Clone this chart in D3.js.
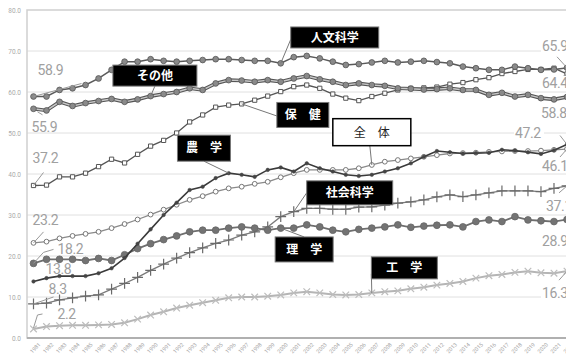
<!DOCTYPE html>
<html><head><meta charset="utf-8">
<script src="https://cdn.jsdelivr.net/npm/d3@7"></script>
<style>
html,body{margin:0;padding:0;background:#fff;}
svg{display:block;}
</style></head>
<body>
<svg id="chart" width="566" height="359"></svg>
<script>
const years = d3.range(1981, 2023);
const yTicks = [0,10,20,30,40,50,60,70,80];

const jinbun = [58.9,58.9,60.5,60.9,61.7,63.3,65.4,67.4,67.4,68.0,67.6,67.4,67.6,67.8,68.0,68.0,67.8,67.6,67.6,67.0,68.5,68.8,68.2,67.4,66.6,66.8,67.2,67.6,67.2,67.4,67.6,67.3,67.0,66.2,65.8,65.4,65.4,66.2,65.8,65.4,65.5,65.9];
const sonota = [55.9,55.5,57.6,56.6,57.3,57.8,58.3,57.6,58.2,59.0,59.5,60.0,60.9,60.5,62.1,62.9,62.8,62.5,62.9,62.5,63.3,63.9,63.1,62.5,61.7,62.1,61.7,61.5,60.9,60.8,60.6,60.7,60.9,60.5,60.5,59.3,59.8,58.9,59.3,58.5,58.2,58.8];
const hoken = [37.2,37.3,39.3,39.3,40.2,41.8,43.6,42.7,44.8,46.8,48.2,50.0,52.7,54.4,56.3,56.8,57.1,58.0,59.0,60.1,61.3,61.7,60.9,59.5,58.5,57.9,58.9,59.7,60.5,60.9,61.0,61.2,61.9,62.3,63.0,63.5,64.5,65.0,65.5,65.5,65.8,64.4];
const zentai = [23.2,23.5,24.3,24.9,25.4,25.9,26.8,27.8,28.9,30.1,31.3,32.5,33.7,34.6,35.7,36.5,36.9,37.6,38.1,39.2,40.2,41.0,41.0,41.0,41.0,41.4,42.2,43.0,43.4,43.8,44.2,44.6,45.0,45.1,45.2,45.4,45.5,45.6,45.6,45.7,45.9,46.1];
const nougaku = [13.8,14.6,15.1,15.1,15.1,15.8,17.0,19.5,23.0,26.5,30.0,33.0,36.1,36.9,39.0,40.2,39.8,39.3,41.0,41.6,40.6,42.6,41.4,40.6,39.8,39.5,39.8,40.6,41.4,42.6,44.2,45.6,45.3,45.0,45.1,45.2,45.9,45.7,45.3,44.9,45.8,47.2];
const shakai = [8.3,8.5,9.3,9.8,10.2,10.5,11.9,13.3,14.8,16.5,18.0,19.5,20.8,22.0,23.1,23.9,25.1,25.9,27.1,29.6,30.8,31.6,31.6,31.4,31.4,31.9,32.0,32.4,32.9,33.2,33.7,34.4,34.9,34.5,34.9,35.4,35.9,35.9,35.9,35.7,36.5,37.1];
const rigaku = [18.2,19.2,19.2,19.2,18.9,19.4,18.9,20.3,21.8,23.0,24.0,24.9,25.9,26.3,26.3,26.8,27.1,26.8,26.3,26.8,26.8,27.6,27.1,26.3,25.9,26.5,26.8,27.1,27.6,27.0,27.3,27.5,27.6,27.1,28.4,28.8,28.4,29.6,28.8,28.6,28.4,28.9];
const kougaku = [2.2,2.8,3.0,3.1,3.1,3.2,3.3,3.7,4.6,5.6,6.4,7.3,8.0,8.6,9.2,9.8,10.0,10.0,10.2,10.5,11.0,11.3,11.0,10.6,10.5,10.6,11.0,11.3,11.5,12.0,12.4,12.9,13.3,13.8,14.6,15.2,15.5,16.0,16.3,15.9,15.8,16.3];

const seriesNames = ["人文科学","その他","保健","全体","農学","社会科学","理学","工学"];

const svg = d3.select("#chart");
const pLeft = 27, pTop = 10, pBottom = 338, pRight = 573;

const x = d3.scalePoint().domain(years).range([33.5, 567]);
const xl = d3.scaleLinear().domain([1981, 2022]).range([33.5, 567]);
const y = d3.scaleLinear().domain([0, 80]).range([pBottom, pTop]);

svg.append("g").selectAll("line").data(yTicks.filter(d => d > 0 && d < 80)).join("line")
  .attr("x1", pLeft).attr("x2", pRight).attr("y1", d => y(d)).attr("y2", d => y(d))
  .attr("stroke", "#e0e0e0").attr("stroke-width", 1);

svg.append("rect").attr("x", pLeft).attr("y", pTop).attr("width", pRight - pLeft).attr("height", pBottom - pTop)
  .attr("fill", "none").attr("stroke", "#cfcfcf").attr("stroke-width", 1.5);
svg.append("line").attr("x1", pLeft).attr("x2", pRight).attr("y1", pBottom).attr("y2", pBottom)
  .attr("stroke", "#b0b0b0").attr("stroke-width", 2);

const yAxis = svg.append("g").attr("transform", `translate(${pLeft},0)`)
  .call(d3.axisLeft(y).tickValues(yTicks).tickFormat(d3.format(".1f")).tickSize(0).tickPadding(6));
yAxis.select(".domain").remove();
yAxis.selectAll("text").attr("fill", "#aaa").attr("font-size", 6.5).attr("font-family", "Roboto, sans-serif");

const xAxis = svg.append("g").attr("transform", `translate(0,${pBottom})`)
  .call(d3.axisBottom(x).tickSize(0).tickPadding(4));
xAxis.select(".domain").remove();
xAxis.selectAll("text").attr("fill", "#aaa").attr("font-size", 5.5).attr("font-family", "Roboto, sans-serif")
  .attr("text-anchor", "end").attr("transform", "translate(3,3) rotate(-45)").attr("dy", "0.3em");

const line = d3.line().x((d, i) => x(years[i])).y(d => y(d));

function drawSeries(vals, opt) {
  const g = svg.append("g");
  if (opt.under) g.append("path").attr("d", line(vals)).attr("fill", "none").attr("stroke", opt.under).attr("stroke-width", opt.underW);
  g.append("path").attr("d", line(vals)).attr("fill", "none").attr("stroke", opt.stroke).attr("stroke-width", opt.width);
  const sym = d3.symbol().type(opt.symbol).size(opt.size);
  g.selectAll("path.m").data(vals).join("path").attr("class", "m")
    .attr("transform", (d, i) => `translate(${x(years[i])},${y(d)})`)
    .attr("d", sym)
    .attr("fill", opt.fill).attr("stroke", opt.mstroke).attr("stroke-width", opt.mw);
  return g;
}

drawSeries(kougaku, {stroke:"#b5b5b5", width:2, symbol:d3.symbolTimes, size:30, fill:"none", mstroke:"#bdbdbd", mw:1.2});
drawSeries(shakai, {stroke:"#7a7a7a", width:1.3, symbol:d3.symbolPlus, size:40, fill:"none", mstroke:"#6a6a6a", mw:1.2});
drawSeries(rigaku, {stroke:"#6e6e6e", width:1.8, symbol:d3.symbolCircle, size:36, fill:"#737373", mstroke:"#666", mw:0.8});
drawSeries(zentai, {stroke:"#8a8a8a", width:1.3, symbol:d3.symbolCircle, size:18, fill:"#fff", mstroke:"#777", mw:1});
drawSeries(nougaku, {stroke:"#3a3a3a", width:1.6, symbol:d3.symbolCircle, size:10, fill:"#444", mstroke:"#444", mw:0.5});
drawSeries(hoken, {stroke:"#555", width:1.3, symbol:d3.symbolSquare, size:18, fill:"#fff", mstroke:"#555", mw:1});
drawSeries(sonota, {under:"#555", underW:3.6, stroke:"#c8c8c8", width:1.4, symbol:d3.symbolCircle, size:26, fill:"#8a8a8a", mstroke:"#555", mw:0.8});
drawSeries(jinbun, {stroke:"#5a5a5a", width:1.5, symbol:d3.symbolCircle, size:26, fill:"#8a8a8a", mstroke:"#555", mw:0.8});

const seriesData = {"人文科学":jinbun,"その他":sonota,"保健":hoken,"全体":zentai,"農学":nougaku,"社会科学":shakai,"理学":rigaku,"工学":kougaku};
const boxes = [
  {text:"人文科学", yr:2004.15, v:73.3, w:88, h:21, dark:true, tgt:"人文科学", tyr:2000, from:[-44,2]},
  {text:"その他", yr:1990.33, v:64.0, w:84, h:21, dark:true, tgt:"その他", tyr:1990, from:[0,10.5]},
  {text:"保　健", yr:2001.7, v:54.4, w:52, h:25, dark:true, tgt:"保健", tyr:1997, from:[-26,1]},
  {text:"全　体", yr:2007.0, v:50.2, w:78, h:27, dark:false, tgt:"全体", tyr:2007, from:[-2,13.5]},
  {text:"農　学", yr:1994.1, v:46.3, w:53, h:26, dark:true, tgt:"農学", tyr:1996, from:[0,13]},
  {text:"社会科学", yr:2005.3, v:35.4, w:86, h:24, dark:true, tgt:"社会科学", tyr:2001, from:[-43,0]},
  {text:"理　学", yr:2001.8, v:21.6, w:58, h:25, dark:true, tgt:"理学", tyr:2000, from:[0,-12.5]},
  {text:"工　学", yr:2009.5, v:17.1, w:66, h:22, dark:true, tgt:"工学", tyr:2007, from:[-33,6]}
];
const bg = svg.append("g");
boxes.forEach(b => {
  const cx = xl(b.yr), cy = y(b.v);
  const tv = seriesData[b.tgt][years.indexOf(b.tyr)];
  bg.append("line").attr("x1", cx + b.from[0]).attr("y1", cy + b.from[1])
    .attr("x2", x(b.tyr)).attr("y2", y(tv)).attr("stroke", "#777").attr("stroke-width", 1);
});
boxes.forEach(b => {
  const cx = xl(b.yr), cy = y(b.v);
  bg.append("rect").attr("x", cx - b.w/2).attr("y", cy - b.h/2).attr("width", b.w).attr("height", b.h)
    .attr("fill", b.dark ? "#000" : "#fff").attr("stroke", b.dark ? "#777" : "#000").attr("stroke-width", b.dark ? 1 : 1.5);
  bg.append("text").attr("x", cx).attr("y", cy).attr("dy", "0.36em").attr("text-anchor", "middle")
    .attr("fill", b.dark ? "#fff" : "#222").attr("font-size", 12).attr("font-weight", b.dark ? "bold" : "normal")
    .attr("font-family", "'Noto Sans CJK JP', sans-serif").text(b.text);
});

const fmt = d3.format(".1f");
const startLabels = [
  {s:jinbun, dx:4, dy:-26, lead:[[48,-13],[0,0]]},
  {s:sonota, dx:-2, dy:18, lead:[[4,3],[9,6]]},
  {s:hoken, dx:-1, dy:-27, lead:[[10,-13],[0,0]]},
  {s:zentai, dx:-1, dy:-23, lead:[[10,-11],[0,0]]},
  {s:rigaku, dx:24, dy:-14, lead:[[20,-14],[10,-11],[0,0]]},
  {s:nougaku, dx:12, dy:-12, lead:null},
  {s:shakai, dx:15, dy:-15, lead:[[20,-7],[0,0]]},
  {s:kougaku, dx:24, dy:-15, lead:[[9,-15],[4,-14],[0,-1]]}
];
const lg = svg.append("g");
startLabels.forEach(l => {
  const px = x(years[0]), py = y(l.s[0]);
  if (l.lead) lg.append("path").attr("d", d3.line()(l.lead.map(p => [px + p[0], py + p[1]])))
    .attr("fill", "none").attr("stroke", "#999").attr("stroke-width", 1);
  lg.append("text").attr("x", px + l.dx).attr("y", py + l.dy).attr("dy", "0.35em")
    .attr("fill", "#a0a0a0").attr("font-size", 14).attr("letter-spacing", -0.4).attr("font-family", "Roboto, sans-serif").text(fmt(l.s[0]));
});
const endLabels = [
  {s:jinbun, dx:-25, dy:-22, lead:[[-10,-11],[0,0]]},
  {s:hoken, dx:-25, dy:9, lead:[[-8,5],[0,0]]},
  {s:sonota, dx:-26, dy:16, lead:null},
  {s:nougaku, dx:-52, dy:-11, lead:[[-7,-9],[0,0]]},
  {s:zentai, dx:-25, dy:17, lead:[[-7,8],[0,0]]},
  {s:shakai, dx:-21, dy:20, lead:[[-8,7],[0,0]]},
  {s:rigaku, dx:-25, dy:22, lead:null},
  {s:kougaku, dx:-25, dy:22, lead:[[-8,9],[0,0]]}
];
endLabels.forEach(l => {
  const n = l.s.length - 1;
  const px = x(years[n]), py = y(l.s[n]);
  if (l.lead) lg.append("path").attr("d", d3.line()(l.lead.map(p => [px + p[0], py + p[1]])))
    .attr("fill", "none").attr("stroke", "#999").attr("stroke-width", 1);
  lg.append("rect").attr("x", px + l.dx - 1).attr("y", py + l.dy - 7).attr("width", 30).attr("height", 14).attr("fill", "#fff");
  lg.append("text").attr("x", px + l.dx).attr("y", py + l.dy).attr("dy", "0.35em")
    .attr("fill", "#a0a0a0").attr("font-size", 14).attr("letter-spacing", -0.4).attr("font-family", "Roboto, sans-serif").text(fmt(l.s[n]));
});
</script>
</body></html>
